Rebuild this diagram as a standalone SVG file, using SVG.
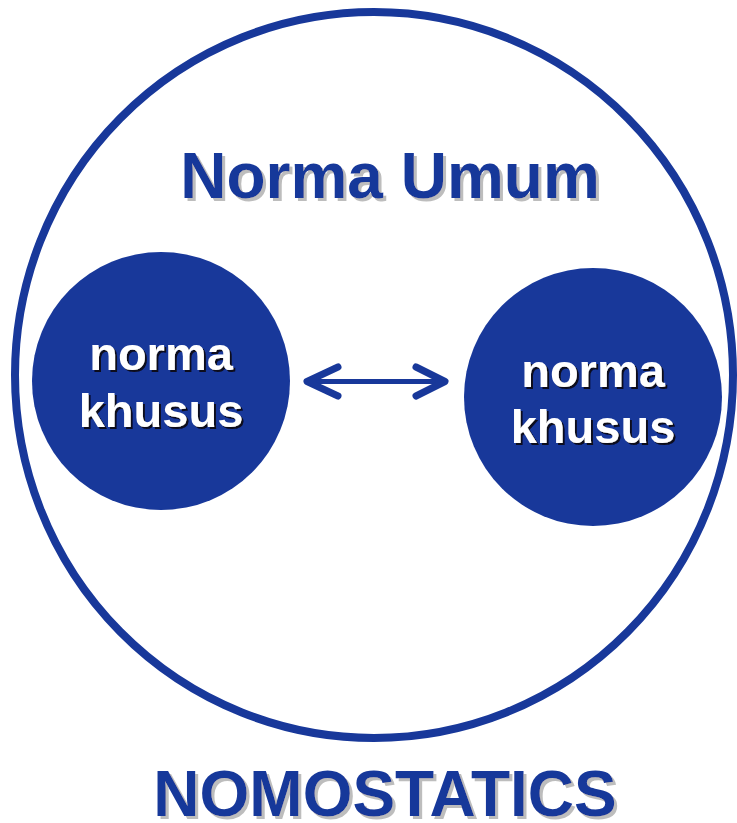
<svg xmlns="http://www.w3.org/2000/svg" width="737" height="823" viewBox="0 0 737 823">
  <defs>
    <!-- soft offset shadows behind the lettering -->
    <filter id="shadow-light" x="-5%" y="-20%" width="115%" height="150%">
      <feOffset in="SourceAlpha" dx="3" dy="3" result="off"/>
      <feFlood flood-color="#BDBDBD"/>
      <feComposite operator="in" in2="off" result="sh"/>
      <feMerge><feMergeNode in="sh"/><feMergeNode in="SourceGraphic"/></feMerge>
    </filter>
    <filter id="shadow-dark" x="-5%" y="-20%" width="115%" height="150%">
      <feOffset in="SourceAlpha" dx="2" dy="2" result="off"/>
      <feFlood flood-color="#0A0A1E"/>
      <feComposite operator="in" in2="off" result="sh"/>
      <feMerge><feMergeNode in="sh"/><feMergeNode in="SourceGraphic"/></feMerge>
    </filter>
  </defs>
  <style>
    .lbl { font-family: "Liberation Sans", Arial, sans-serif; font-weight: bold; text-anchor: middle; }
    .title { font-size: 64px; fill: #18389A; filter: url(#shadow-light); }
    .inner { font-size: 47px; fill: #FFFFFF; filter: url(#shadow-dark); }
    .blob { fill: #18389A; }
    .link { stroke: #18389A; fill: none; stroke-linecap: round; stroke-linejoin: round; }
  </style>
  <rect width="737" height="823" fill="#FFFFFF"/>

  <g id="norma-umum">
    <ellipse cx="374" cy="375" rx="359" ry="363" fill="none" stroke="#18389A" stroke-width="8"/>
    <text class="lbl title" x="390" y="198">Norma Umum</text>
  </g>

  <g id="khusus-left">
    <circle class="blob" cx="161" cy="381" r="129"/>
    <text class="lbl inner" x="161" y="370">norma</text>
    <text class="lbl inner" x="161" y="427">khusus</text>
  </g>

  <g id="khusus-right">
    <circle class="blob" cx="593" cy="397" r="129"/>
    <text class="lbl inner" x="593" y="387">norma</text>
    <text class="lbl inner" x="593" y="443">khusus</text>
  </g>

  <g id="connectors">
    <line class="link" x1="310" y1="381.5" x2="442" y2="381.5" stroke-width="5"/>
    <polyline class="link" points="338,367 307,381.5 338,396" stroke-width="7"/>
    <polyline class="link" points="416,367 445,381.5 416,396" stroke-width="7"/>
  </g>

  <g id="nomostatics">
    <text class="lbl title" x="385" y="816">NOMOSTATICS</text>
  </g>
</svg>
